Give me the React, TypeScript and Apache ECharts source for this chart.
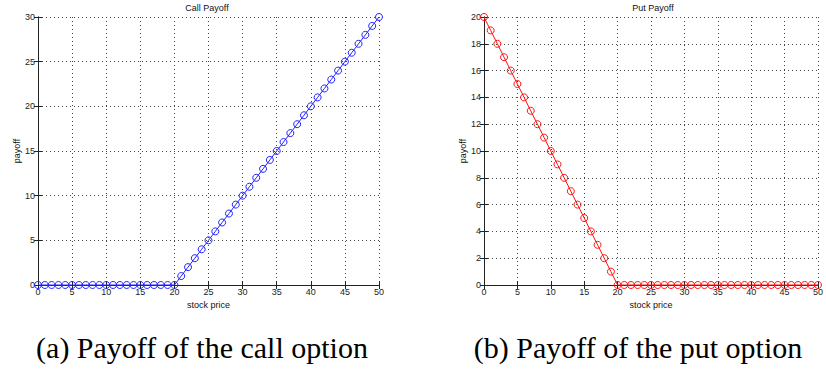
import React, { useEffect, useRef } from "react";
import * as echarts from "echarts";

// Stock prices 0..50
const stockPrices: number[] = [
  0, 1, 2, 3, 4, 5, 6, 7, 8, 9, 10, 11, 12, 13, 14, 15, 16, 17, 18, 19, 20,
  21, 22, 23, 24, 25, 26, 27, 28, 29, 30, 31, 32, 33, 34, 35, 36, 37, 38, 39, 40,
  41, 42, 43, 44, 45, 46, 47, 48, 49, 50,
];

// Call option payoff (strike 20)
const callPayoff: number[] = [
  0, 0, 0, 0, 0, 0, 0, 0, 0, 0, 0, 0, 0, 0, 0, 0, 0, 0, 0, 0, 0,
  1, 2, 3, 4, 5, 6, 7, 8, 9, 10, 11, 12, 13, 14, 15, 16, 17, 18, 19, 20,
  21, 22, 23, 24, 25, 26, 27, 28, 29, 30,
];

// Put option payoff (strike 20)
const putPayoff: number[] = [
  20, 19, 18, 17, 16, 15, 14, 13, 12, 11, 10, 9, 8, 7, 6, 5, 4, 3, 2, 1, 0,
  0, 0, 0, 0, 0, 0, 0, 0, 0, 0, 0, 0, 0, 0, 0, 0, 0, 0, 0, 0,
  0, 0, 0, 0, 0, 0, 0, 0, 0, 0,
];

const chartTitles = ["Call Payoff", "Put Payoff"];
const captions = ["(a) Payoff of the call option", "(b) Payoff of the put option"];
const xName = "stock price";
const yName = "payoff";

const SANS = "Liberation Sans";
const SERIF = "Liberation Serif";

export default function App() {
  const ref = useRef<HTMLDivElement>(null);

  useEffect(() => {
    if (!ref.current) return;
    const chart = echarts.init(ref.current, undefined, { renderer: "svg" });

    const grids = [
      { left: 38, top: 17, width: 341, height: 268 },
      { left: 484, top: 17, width: 341, height: 268 },
    ];
    const yMax = [30, 20];
    const yInterval = [5, 2];

    const xAxes: any[] = [];
    const yAxes: any[] = [];
    grids.forEach((_, i) => {
      xAxes.push({
        type: "value",
        gridIndex: i,
        min: 0,
        max: 50,
        interval: 5,
        name: xName,
        nameLocation: "middle",
        nameGap: 14,
        nameTextStyle: { fontFamily: SANS, fontSize: 9, color: "#111" },
        axisLine: { show: true, lineStyle: { color: "#222", width: 1 } },
        axisTick: { show: true, inside: true, length: 4, lineStyle: { color: "#222" } },
        axisLabel: { fontFamily: SANS, fontSize: 9, color: "#222", margin: 2, showMaxLabel: true },
        splitLine: { show: true, lineStyle: { color: "#444", type: [1, 3], width: 1 } },
      });
      xAxes.push({
        type: "value",
        gridIndex: i,
        position: "top",
        min: 0,
        max: 50,
        interval: 5,
        axisLine: { show: true, lineStyle: { color: "#222", width: 1 } },
        axisTick: { show: true, inside: true, length: 4, lineStyle: { color: "#222" } },
        axisLabel: { show: false },
        splitLine: { show: false },
      });
      yAxes.push({
        type: "value",
        gridIndex: i,
        min: 0,
        max: yMax[i],
        interval: yInterval[i],
        name: yName,
        nameLocation: "middle",
        nameRotate: 90,
        nameGap: 17,
        nameTextStyle: { fontFamily: SANS, fontSize: 9, color: "#111" },
        axisLine: { show: true, lineStyle: { color: "#222", width: 1 } },
        axisTick: { show: true, inside: true, length: 4, lineStyle: { color: "#222" } },
        axisLabel: { fontFamily: SANS, fontSize: 9, color: "#222", margin: 3 },
        splitLine: { show: true, lineStyle: { color: "#444", type: [1, 3], width: 1 } },
      });
      yAxes.push({
        type: "value",
        gridIndex: i,
        position: "right",
        min: 0,
        max: yMax[i],
        interval: yInterval[i],
        axisLine: { show: true, lineStyle: { color: "#222", width: 1 } },
        axisTick: { show: true, inside: true, length: 4, lineStyle: { color: "#222" } },
        axisLabel: { show: false },
        splitLine: { show: false },
      });
    });

    const makeSeries = (values: number[], color: string, axisIdx: number) => ({
      type: "line",
      xAxisIndex: axisIdx * 2,
      yAxisIndex: axisIdx * 2,
      data: stockPrices.map((x, k) => [x, values[k]]),
      symbol: "circle",
      symbolSize: 7,
      showSymbol: true,
      clip: false,
      lineStyle: { color, width: 1 },
      itemStyle: { color: "rgba(0,0,0,0)", borderColor: color, borderWidth: 1 },
      z: 3,
    });

    const titleStyle = { fontFamily: SANS, fontSize: 9, fontWeight: "normal", color: "#111" };
    const captionStyle = { fontFamily: SERIF, fontSize: 30, fontWeight: "normal", color: "#000" };

    chart.setOption({
      animation: false,
      backgroundColor: "#fff",
      title: [
        { text: chartTitles[0], left: 207, top: 3, padding: 0, textAlign: "center", textStyle: titleStyle },
        { text: chartTitles[1], left: 653, top: 3, padding: 0, textAlign: "center", textStyle: titleStyle },
        { text: captions[0], left: 202, top: 332, padding: 0, textAlign: "center", textStyle: captionStyle },
        { text: captions[1], left: 638, top: 332, padding: 0, textAlign: "center", textStyle: captionStyle },
      ],
      grid: grids.map((g) => ({ ...g, containLabel: false })),
      xAxis: xAxes,
      yAxis: yAxes,
      series: [makeSeries(callPayoff, "#2222ff", 0), makeSeries(putPayoff, "#ff1111", 1)],
    });

    return () => chart.dispose();
  }, []);

  return (
    <div
      ref={ref}
      style={{ position: "fixed", left: 0, top: 0, width: 826, height: 371, background: "#fff" }}
    />
  );
}
